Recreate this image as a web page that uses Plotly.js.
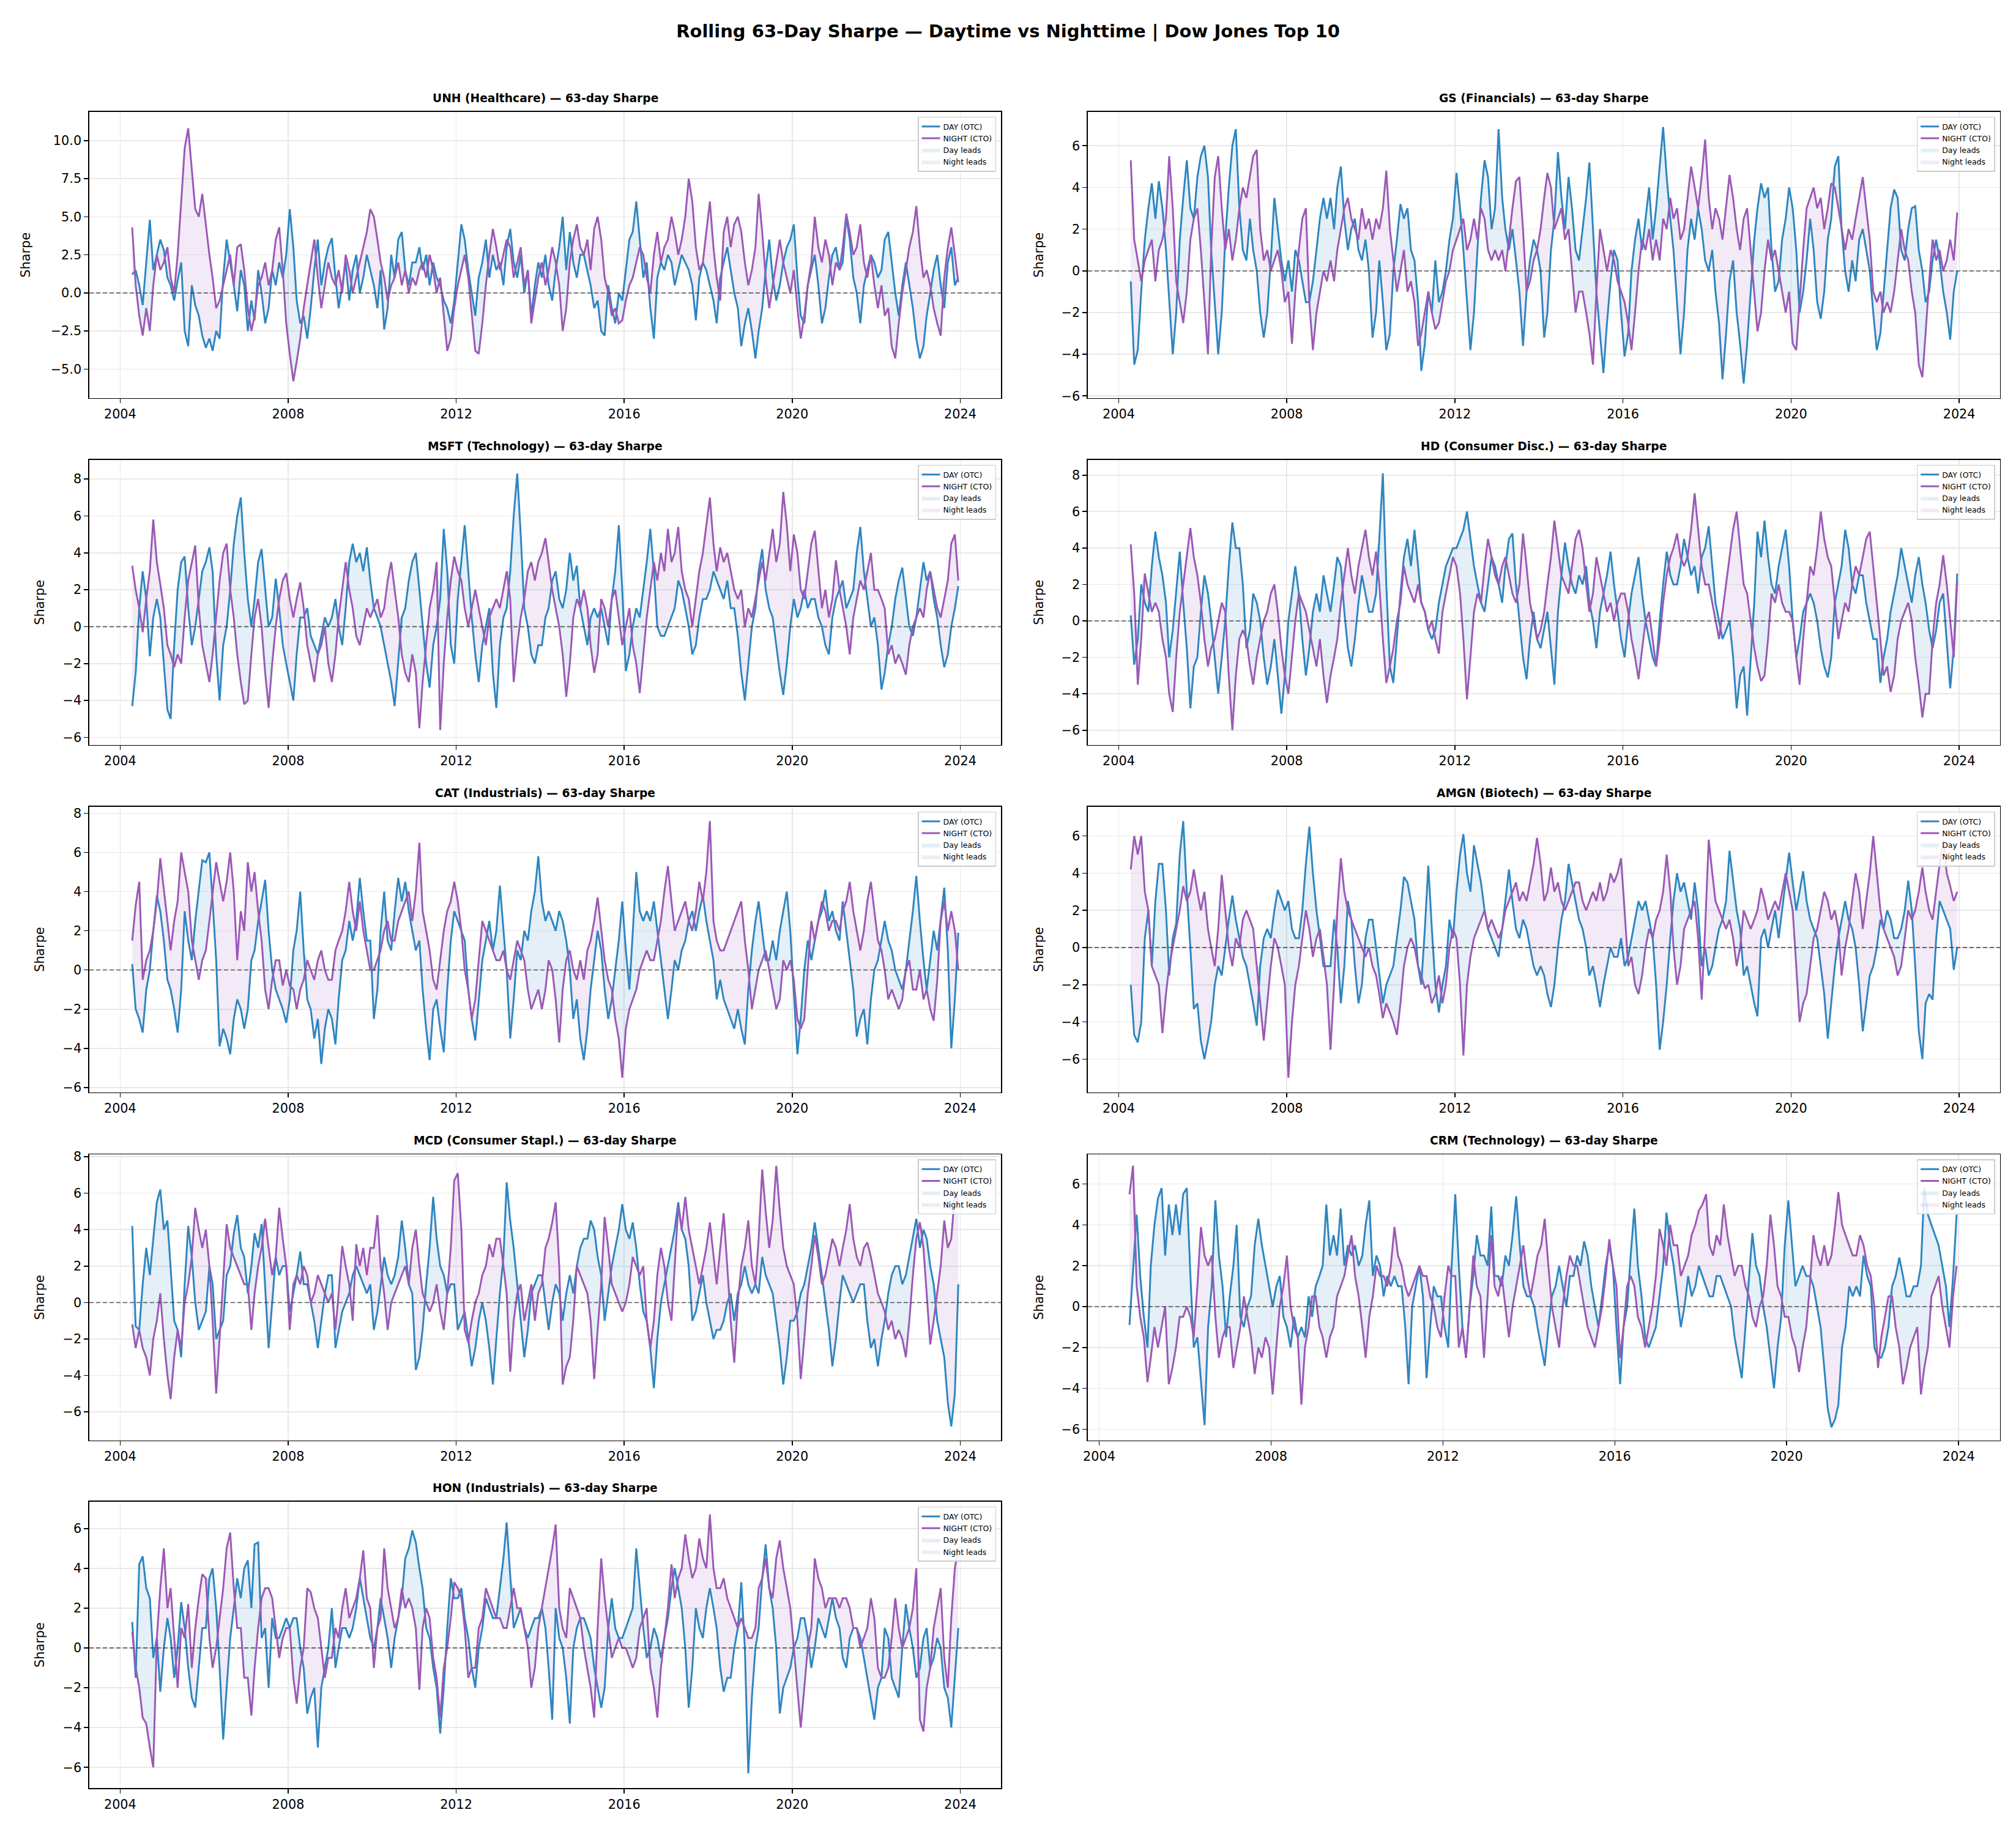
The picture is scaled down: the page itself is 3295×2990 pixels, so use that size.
<!DOCTYPE html>
<html>
<head>
<meta charset="utf-8">
<script src="https://cdn.plot.ly/plotly-3.0.1.min.js"></script>
<style>html,body{margin:0;padding:0;background:#fff;}#chart{width:3295px;height:2990px;}</style>
</head>
<body>
<div id="chart"></div>
<script>
// ---------------- DATA (monthly readings of the rolling 63-day Sharpe) ----------------
const TICK_YEARS = ['2004','2008','2012','2016','2020','2024'];
const SERIES_NAMES = ['DAY (OTC)', 'NIGHT (CTO)', 'Day leads', 'Night leads'];
const TICKERS = ['UNH (Healthcare)','GS (Financials)','MSFT (Technology)','HD (Consumer Disc.)','CAT (Industrials)','AMGN (Biotech)','MCD (Consumer Stapl.)','CRM (Technology)','HON (Industrials)'];
const START_MONTHS = ['2004-04','2004-04','2004-04','2004-04','2004-04','2004-04','2004-04','2004-09','2004-04'];

const UNH_DAY = [1.2,1.5,0.5,-0.8,2.0,4.8,1.5,2.5,3.5,
2.8,1.0,0.5,-0.5,0.8,2.0,-2.5,-3.5,0.5,-0.8,-1.5,-2.8,
-3.6,-3.0,-3.8,-2.5,-3.0,1.0,3.5,2.0,0.5,-1.2,1.5,0.5,
-2.5,-0.5,-1.8,1.5,0.0,-2.0,-1.0,1.5,0.5,2.0,1.0,2.5,
5.5,3.0,-0.5,-2.0,-1.5,-3.0,-1.0,1.5,3.5,0.5,2.0,3.0,
3.6,1.0,-1.0,0.5,2.0,-0.5,1.5,2.5,0.0,1.0,2.5,1.5,
0.5,-1.0,1.5,-2.4,-1.0,2.5,1.0,3.5,4.0,1.5,0.5,2.0,
2.0,3.0,1.5,2.5,0.5,2.0,1.0,0.5,-0.5,-1.0,-2.0,-0.5,
2.0,4.5,3.5,1.5,0.0,-1.5,1.0,2.0,3.5,1.0,2.5,1.5,
2.0,0.5,3.0,4.2,2.0,1.0,2.5,0.0,1.5,-1.5,0.5,2.0,
1.0,2.5,0.5,-0.5,1.5,3.0,5.0,1.5,4.0,2.0,1.0,2.5,
2.5,1.5,0.5,-1.0,-0.5,-2.5,-2.8,0.5,-1.0,-2.0,0.0,-0.5,
1.5,3.5,4.0,6.0,3.5,1.0,2.0,-1.0,-3.0,1.0,2.0,1.5,
2.5,2.0,0.5,1.5,2.5,2.0,1.5,0.5,-1.8,1.0,2.0,1.5,
0.5,-0.5,-2.0,1.0,2.0,3.0,1.5,0.0,-1.0,-3.5,-2.0,-1.0,
-2.5,-4.3,-2.5,-1.0,1.5,3.5,1.0,-0.5,0.5,2.0,3.0,3.5,
4.5,1.0,-1.5,-2.0,0.5,1.5,2.5,0.5,-2.0,-1.0,1.0,2.5,
3.0,1.5,2.0,5.0,3.5,1.0,0.0,-2.0,0.5,1.5,2.5,2.0,
1.0,1.5,3.5,4.0,2.0,0.0,-1.5,0.5,2.0,0.5,-1.0,-3.0,
-4.3,-3.5,-1.5,0.0,1.5,2.5,0.5,-1.0,2.0,3.0,0.5,1.0];
const UNH_NIGHT = [4.3,0.5,-1.5,-2.8,-1.0,-2.5,0.5,2.5,1.5,
2.0,3.0,1.0,0.0,2.5,6.0,9.5,10.8,8.0,5.5,5.0,6.5,
4.5,2.5,1.0,-1.0,-0.5,0.5,1.5,2.5,0.5,3.0,3.2,1.5,
-1.0,-2.5,-1.5,0.5,1.0,2.0,0.5,1.5,3.5,4.3,1.5,-2.0,
-4.0,-5.8,-4.5,-3.0,-1.0,0.5,2.0,3.5,1.0,-1.0,0.5,2.0,
1.0,0.5,1.5,0.0,2.5,1.5,0.0,1.0,2.0,3.0,4.0,5.5,
5.0,3.5,2.0,1.0,-0.5,0.5,1.0,2.0,0.5,1.5,0.0,1.0,
0.5,1.5,2.0,1.0,2.5,1.5,0.0,1.0,-1.5,-3.8,-3.0,-1.0,
0.5,1.5,2.5,1.0,-1.5,-3.8,-4.0,-2.0,0.5,2.5,4.2,3.0,
1.5,2.5,3.5,3.0,1.0,2.0,3.0,0.5,1.5,-2.0,-0.5,1.0,
2.0,0.5,1.5,3.0,2.0,0.5,-2.5,-1.0,2.0,3.5,4.5,3.0,
2.5,3.5,1.5,4.2,5.0,3.5,1.0,0.0,-1.5,-1.0,-2.0,-1.8,
-0.5,0.5,1.0,2.0,3.0,2.5,1.0,0.0,2.5,4.0,2.0,3.0,
3.5,5.0,4.0,2.5,3.5,5.0,7.5,6.0,3.0,1.5,2.0,4.0,
6.0,3.0,1.0,-0.5,4.0,5.0,3.0,4.5,5.0,4.0,2.0,0.5,
1.5,3.0,6.5,4.0,1.0,-1.0,0.5,2.0,3.5,2.0,1.0,0.0,
1.5,-1.0,-3.0,-1.5,0.5,2.0,5.0,3.0,2.0,3.5,2.5,0.5,
2.0,1.5,3.0,5.2,4.0,2.5,3.0,4.5,2.0,1.0,2.5,0.5,
-1.0,0.5,-1.5,-1.0,-3.5,-4.3,-2.0,0.0,1.5,3.0,4.0,5.7,
3.0,1.0,1.5,0.5,-1.0,-2.0,-2.8,1.0,3.0,4.3,2.5,0.7];

const GS_DAY = [-0.5,-4.5,-3.8,-1.0,1.5,3.0,4.2,2.5,4.3,
3.0,1.0,-1.5,-4.0,-2.0,1.5,3.5,5.3,3.0,2.5,4.5,5.5,
6.0,4.5,1.0,-1.5,-4.0,-2.0,1.5,4.0,6.0,6.8,3.0,1.0,
0.5,2.5,1.0,0.0,-2.0,-3.2,-2.0,0.5,3.5,2.0,0.5,-0.5,
0.5,-1.0,1.0,0.5,-0.5,-1.5,-1.5,-0.5,1.0,2.5,3.5,2.5,
3.5,2.0,4.0,5.0,2.5,1.0,2.0,2.5,1.0,0.5,1.5,0.0,
-3.2,-2.0,0.5,-1.5,-3.8,-3.0,0.0,1.5,3.2,2.5,3.0,1.0,
0.5,-1.5,-4.8,-3.5,-1.0,-2.0,0.5,-1.5,-1.0,0.0,1.5,2.5,
4.7,3.0,1.0,-1.5,-3.8,-2.0,1.0,3.5,5.3,4.5,2.0,3.0,
6.8,3.5,2.0,1.0,2.0,0.5,-1.0,-3.6,-1.0,0.5,1.5,1.0,
0.0,-3.2,-2.0,1.0,2.5,5.7,3.5,2.0,4.5,3.0,1.0,0.5,
2.0,3.5,5.2,2.0,-1.0,-3.0,-4.9,-2.5,-0.5,1.0,0.5,-2.0,
-4.1,-3.0,0.0,1.5,2.5,1.0,2.5,4.0,1.5,3.0,5.0,6.9,
4.5,2.5,1.0,-1.5,-4.0,-2.0,1.0,2.5,1.5,3.0,2.0,0.5,
0.0,1.0,-1.0,-2.5,-5.2,-3.0,-0.5,0.5,-2.0,-3.5,-5.4,-3.5,
-1.0,1.5,3.0,4.2,3.5,4.0,1.0,-1.0,-0.5,1.5,2.5,4.0,
3.0,1.0,-2.0,-1.0,0.5,2.5,1.0,-1.5,-2.3,-1.0,1.5,2.5,
5.0,5.5,2.0,0.0,-1.0,0.5,-0.5,1.5,2.0,1.0,0.0,-2.0,
-3.8,-3.0,-1.0,1.0,3.0,3.9,3.5,1.0,0.5,2.0,3.0,3.1,
1.0,0.0,-1.5,-1.0,0.5,1.5,0.5,-1.0,-2.0,-3.3,-1.0,0.0];
const GS_NIGHT = [5.3,1.5,0.5,-0.5,0.5,1.0,1.5,-0.5,1.0,
1.5,2.5,5.5,3.0,-0.5,-1.5,-2.5,-1.0,1.5,2.5,3.0,1.0,
-1.5,-4.0,1.0,4.5,5.5,3.0,1.0,2.0,0.5,1.5,3.0,4.0,
3.5,4.5,5.5,5.8,2.0,0.5,1.0,0.0,0.5,1.0,0.0,-1.5,
-1.0,-3.5,-1.0,1.0,2.5,3.0,-1.5,-3.8,-2.0,-1.0,0.0,-0.5,
0.5,-0.5,1.0,2.0,3.0,3.5,2.5,2.0,1.5,3.0,2.0,2.5,
1.5,2.5,2.0,3.0,4.8,2.0,0.5,-1.0,0.0,1.0,-1.0,-0.5,
-1.5,-3.6,-3.0,-2.0,-1.0,-2.0,-2.8,-2.5,-1.5,-0.5,0.0,1.0,
1.5,2.0,2.5,1.0,1.5,2.5,1.5,3.0,2.5,1.0,0.5,1.0,
0.5,1.0,0.0,1.5,3.0,4.3,4.5,2.0,-1.0,-0.5,0.5,1.0,
2.0,3.5,4.7,4.0,2.0,2.5,3.0,1.5,2.0,0.0,-2.0,-1.0,
-1.0,-2.0,-3.0,-4.5,-1.0,2.0,1.0,0.0,1.0,0.5,-0.5,-1.0,
-1.5,-2.5,-3.8,-2.0,0.0,1.5,1.0,2.0,0.5,1.5,0.5,2.5,
2.0,3.5,2.5,3.0,1.5,2.0,3.5,5.0,4.0,3.0,4.5,6.3,
3.5,2.0,3.0,2.5,1.5,3.0,4.6,3.5,2.0,1.0,2.5,3.0,
1.0,-1.0,-2.9,-2.0,0.0,1.5,0.5,1.0,0.0,-1.0,-2.0,-1.0,
-3.5,-3.8,-1.5,1.0,3.0,3.5,4.0,3.0,3.5,2.0,3.0,4.2,
4.0,3.0,2.0,1.0,2.0,1.5,2.5,3.5,4.5,3.0,1.5,-1.0,
-1.5,-1.0,-2.0,-1.5,-2.0,-1.0,0.5,2.0,1.0,0.5,-1.0,-2.0,
-4.5,-5.1,-3.0,-0.5,1.5,0.5,1.0,0.0,0.5,1.5,0.5,2.8];

const MSFT_DAY = [-4.3,-2.5,1.0,3.0,1.5,-1.6,0.5,1.5,0.5,
-2.0,-4.5,-5.0,-1.0,2.0,3.5,3.8,1.0,-1.0,0.0,1.5,3.0,
3.5,4.3,3.0,-1.5,-4.0,-1.0,0.0,2.0,4.5,6.0,7.0,4.0,
1.5,0.0,1.5,3.5,4.2,2.0,0.0,0.5,2.6,1.0,-1.0,-2.0,
-3.0,-4.0,-1.5,0.5,0.5,1.0,-0.5,-1.0,-1.5,-0.5,0.5,0.0,
0.5,1.5,0.0,-1.0,1.0,3.5,4.5,3.5,4.0,3.0,4.3,2.5,
1.0,0.5,0.0,-1.0,-2.0,-3.0,-4.3,-2.0,0.5,1.0,2.5,3.5,
4.0,2.0,0.0,-2.0,-3.3,-1.0,0.0,1.5,5.3,3.0,-1.0,-2.0,
1.5,3.5,5.5,3.0,0.5,-1.5,-3.0,-1.0,0.0,1.0,-2.5,-4.4,
-1.0,0.5,1.0,3.0,6.0,8.3,5.0,1.0,0.0,-1.5,-2.0,-1.0,
-1.0,0.5,1.0,2.5,3.0,1.5,1.0,2.0,4.0,2.5,3.3,1.0,
0.0,-1.0,0.5,1.0,0.5,1.0,0.0,-1.0,1.5,3.0,5.5,2.0,
-2.4,-1.5,0.0,1.0,0.5,2.0,3.5,5.3,3.0,0.0,-0.5,-0.5,
0.0,0.5,1.0,2.5,2.0,1.0,0.0,-1.5,-1.0,0.5,1.5,1.5,
2.0,3.0,2.5,2.0,1.5,2.5,1.0,1.0,-0.5,-2.5,-4.0,-2.0,
0.0,1.0,3.0,4.2,2.0,1.0,0.5,-1.0,-2.5,-3.7,-2.0,0.0,
1.5,0.5,1.0,2.0,1.0,1.5,1.5,0.5,0.0,-1.0,-1.5,0.5,
1.5,2.0,2.5,1.0,1.5,2.0,4.0,5.4,3.0,1.5,0.0,0.5,
-1.0,-3.4,-2.5,-1.0,0.0,1.5,2.5,3.2,1.5,0.0,-0.5,0.5,
2.0,3.5,2.5,3.0,1.5,0.5,-1.0,-2.2,-1.5,0.0,1.0,2.2];
const MSFT_NIGHT = [3.3,2.0,1.0,-0.3,1.5,3.0,5.8,3.5,2.3,
1.0,-1.0,-1.5,-2.2,-1.5,-2.0,0.5,2.5,3.5,4.4,1.0,-1.0,
-2.0,-3.0,-1.5,0.5,2.5,4.0,4.5,2.0,0.5,-1.5,-3.0,-4.2,
-4.0,-1.5,0.5,1.5,0.0,-2.5,-4.4,-2.0,0.0,1.5,2.5,2.9,
1.5,0.5,1.5,2.4,1.0,-1.0,-2.0,-3.0,-1.5,-1.0,0.0,-2.0,
-3.0,-1.5,0.5,2.0,3.5,2.0,1.0,-0.5,-1.0,0.0,1.0,0.5,
1.0,1.5,0.5,1.0,2.5,3.5,2.0,0.5,-1.5,-2.5,-3.0,-1.5,
-2.5,-5.5,-3.0,-1.0,1.0,2.0,3.5,-5.6,-2.0,0.5,2.5,3.8,
3.0,2.5,1.0,0.0,1.0,2.0,1.0,0.0,-1.0,0.5,1.0,1.5,
1.0,2.0,3.0,1.5,-3.0,-1.0,0.5,1.5,3.0,3.5,2.5,3.5,
4.0,4.8,3.5,2.0,1.0,0.0,-1.5,-3.8,-2.0,0.5,1.5,1.0,
2.0,1.0,-1.0,-2.5,-1.5,1.5,1.0,0.0,1.5,2.0,0.5,-1.0,
0.0,1.0,-1.0,-2.0,-3.6,-1.5,0.5,2.0,3.5,2.5,4.0,3.0,
5.3,3.5,4.0,5.4,3.0,2.0,1.5,0.0,1.5,3.0,4.0,5.5,
7.0,4.5,3.0,4.3,3.5,4.0,3.0,2.0,1.5,2.0,0.0,1.0,
0.5,1.5,2.5,3.5,2.5,4.0,5.3,3.5,4.5,7.3,5.5,3.0,
5.0,4.0,2.0,1.5,3.0,4.5,5.2,3.0,1.0,2.0,0.5,1.5,
3.6,2.0,1.0,0.0,-1.5,0.5,1.5,2.5,2.0,3.0,4.0,2.0,
2.0,1.5,1.0,-1.5,-1.0,-2.0,-1.5,-2.0,-2.6,-1.0,0.0,0.5,
1.0,0.5,2.0,3.0,2.0,1.0,0.5,1.5,2.5,4.5,5.0,2.5];

const HD_DAY = [0.3,-2.4,-1.0,2.0,1.0,0.5,3.0,4.9,3.5,
2.5,1.0,-2.0,-0.5,1.5,3.8,1.0,-1.5,-4.8,-2.5,-2.0,0.5,
2.5,1.5,0.0,-2.0,-4.0,-2.0,0.0,3.0,5.4,4.0,4.0,2.0,
-1.5,-0.5,1.5,1.0,0.0,-2.0,-3.5,-2.5,-1.0,-3.0,-5.1,-3.0,
0.0,1.5,3.0,1.5,-1.0,-3.0,-1.5,0.5,1.5,0.5,2.5,1.5,
0.5,2.0,3.5,3.0,0.5,-1.5,-2.5,-1.0,1.0,2.5,1.5,0.5,
0.5,1.5,4.5,8.1,2.0,-2.5,-3.4,-1.0,1.5,3.5,4.5,3.0,
5.0,3.0,1.0,0.5,-0.5,-1.0,-0.5,1.0,2.0,3.0,3.5,4.0,
4.0,4.5,5.0,6.0,4.5,3.0,2.0,1.0,0.5,2.0,3.5,3.0,
2.0,1.0,3.0,4.5,4.8,2.0,0.0,-2.0,-3.2,-1.0,0.5,-1.0,
-1.5,-0.5,0.5,-1.5,-3.5,0.5,2.5,4.3,3.0,2.0,1.5,2.5,
2.0,3.0,1.0,0.0,-1.5,0.5,1.5,2.5,3.8,2.0,0.5,-1.0,
-2.0,0.0,1.5,2.5,3.5,1.5,0.0,-1.0,-2.0,-2.5,0.0,2.0,
3.8,2.5,2.0,2.0,3.0,4.5,3.5,2.5,3.0,1.5,3.5,4.0,
5.2,3.0,1.0,0.0,-1.0,-0.5,0.0,-2.0,-4.8,-3.0,-2.5,-5.2,
-2.0,1.0,4.9,3.5,5.5,3.5,2.0,1.5,3.0,4.0,5.0,3.0,
0.0,-2.0,-1.0,0.5,1.0,1.5,1.0,0.0,-1.5,-2.5,-3.1,-2.0,
1.0,2.0,3.0,5.0,4.0,2.0,1.5,2.5,2.5,1.0,0.0,-1.0,
-1.0,-3.4,-2.0,-1.0,0.5,1.5,2.5,4.0,3.0,2.0,1.0,2.5,
3.5,2.0,1.0,-0.5,-1.5,-0.5,1.0,1.5,-1.0,-3.7,-1.5,2.6];
const HD_NIGHT = [4.2,1.5,-3.5,-1.0,2.6,1.5,0.5,1.0,0.5,
-1.0,-2.0,-4.0,-5.0,-2.0,0.5,2.0,3.5,5.1,3.5,2.5,1.0,
-1.0,-2.5,-1.5,-1.0,0.0,1.0,0.5,-3.0,-6.0,-3.0,-1.0,-0.5,
-1.0,-2.5,-3.5,-2.0,-1.0,0.0,0.5,1.5,2.0,0.5,-1.5,-3.0,
-4.0,-2.0,0.0,1.5,1.0,0.5,-0.5,-1.5,-2.5,-1.0,-3.0,-4.5,
-3.0,-2.0,-1.0,1.0,2.5,4.0,2.5,1.5,3.0,4.0,5.0,3.5,
2.5,3.8,2.0,-1.0,-3.4,-2.5,-1.5,0.0,1.0,3.0,2.0,1.5,
1.0,2.0,1.0,0.5,-0.5,0.0,-1.0,-1.8,0.5,1.5,2.5,3.5,
3.0,1.5,-1.0,-4.3,-2.0,0.5,1.5,1.0,3.0,4.5,3.5,2.5,
2.0,3.0,3.5,2.5,1.5,1.0,2.0,4.8,3.0,1.0,0.0,-1.0,
-0.5,0.5,2.0,3.5,5.5,4.0,2.5,2.0,1.5,3.0,4.5,5.0,
4.0,2.0,0.5,1.5,3.5,2.5,1.5,0.5,1.0,0.0,1.0,1.5,
1.5,0.5,-1.0,-2.0,-3.2,-1.5,0.0,0.5,-1.0,-2.5,-1.0,1.0,
2.5,3.5,4.0,4.8,3.5,3.0,3.5,5.0,7.0,5.0,3.0,2.0,
2.0,1.0,0.0,-1.0,0.5,2.0,3.5,5.0,6.0,4.0,2.0,1.5,
0.0,-1.5,-2.5,-3.3,-3.0,-1.0,1.5,1.0,2.0,1.0,0.5,0.5,
0.0,-2.0,-3.5,-1.0,1.0,3.0,2.5,4.0,6.0,4.5,3.5,3.0,
1.0,-1.0,0.0,1.0,0.5,2.0,3.0,2.5,3.5,4.5,4.9,3.0,
1.0,-1.0,-3.0,-2.5,-3.9,-3.0,-1.0,0.0,0.5,1.0,0.0,-2.0,
-3.5,-5.3,-4.0,-4.0,-1.0,1.0,2.0,3.6,2.0,0.0,-2.0,2.2];

const CAT_DAY = [0.3,-2.0,-2.5,-3.2,-1.0,0.0,2.0,3.8,3.0,
1.5,-0.5,-1.0,-2.0,-3.2,-1.0,3.0,1.5,0.5,2.5,4.0,5.6,
5.5,6.0,3.5,0.5,-3.9,-3.0,-3.5,-4.3,-2.5,-1.5,-2.0,-3.0,
-2.0,0.5,1.0,2.5,3.5,4.6,2.0,0.0,-1.0,-1.5,-2.0,-2.7,
-1.5,1.0,2.0,4.0,1.0,-1.5,-2.0,-3.5,-2.5,-4.8,-3.0,-2.0,
-2.5,-3.8,-1.5,0.5,1.0,2.5,1.5,2.5,4.7,3.0,1.5,1.5,
-2.5,-1.0,2.0,4.0,1.5,1.0,3.0,4.7,3.5,4.5,3.0,2.0,
1.0,1.5,-1.0,-3.0,-4.6,-2.0,-1.5,-3.0,-4.2,-1.0,1.5,3.0,
2.5,2.0,1.5,-1.0,-2.5,-3.6,-1.5,0.5,1.5,2.5,1.0,2.0,
4.3,2.0,0.0,-3.5,-1.5,1.0,0.5,2.0,1.5,3.0,4.0,5.8,
3.5,2.5,3.0,2.5,2.0,3.0,2.5,1.5,0.0,-2.5,-1.5,-3.5,
-4.6,-3.0,-1.0,0.5,2.0,1.0,-1.0,-2.5,-1.5,0.0,1.5,3.5,
1.0,-1.0,2.0,5.0,3.0,2.5,3.0,2.5,3.5,2.0,0.5,-1.0,
-2.5,-1.0,0.5,0.0,1.0,1.5,2.5,3.0,2.0,3.0,3.8,2.5,
1.5,0.5,-1.5,-0.5,-1.5,-2.0,-2.5,-3.0,-2.0,-3.0,-3.8,-1.0,
1.0,2.5,3.5,2.0,0.5,0.5,1.5,0.5,2.0,3.0,4.0,2.0,
-1.0,-4.3,-2.5,0.0,1.5,0.5,1.5,2.5,3.0,4.1,2.5,3.0,
2.0,1.5,3.5,2.0,0.5,-1.0,-3.4,-2.5,-2.0,-3.8,-1.5,0.0,
0.5,1.5,2.5,1.5,1.0,0.0,-0.5,-1.0,0.0,1.5,3.0,4.8,
2.5,0.5,-1.0,0.5,2.0,1.0,2.5,4.2,1.0,-4.0,-1.5,1.9];
const CAT_NIGHT = [1.5,3.3,4.5,-0.5,0.5,1.0,2.0,3.5,5.7,
4.0,2.5,1.0,2.5,3.5,6.0,5.0,4.0,1.5,0.5,-0.5,0.5,
1.0,2.5,4.0,5.5,4.5,3.5,4.5,6.0,4.0,0.5,3.0,2.0,
5.5,4.0,5.0,3.0,1.5,-1.0,-2.0,-0.5,0.5,0.5,-0.8,0.0,
-0.8,-1.0,-2.0,-1.0,-0.5,0.5,0.0,-0.5,0.5,1.0,0.0,-0.5,
-0.5,1.0,1.5,2.0,3.0,4.5,3.0,2.0,3.5,2.0,1.0,0.0,
0.0,0.5,1.0,2.0,2.5,1.5,1.5,2.5,3.0,3.5,4.0,2.5,
4.0,6.5,3.0,2.0,1.0,-0.5,-1.0,0.5,2.0,3.0,3.5,4.5,
3.5,2.0,0.0,-1.0,-2.5,-1.5,0.5,2.5,2.0,1.5,1.0,0.5,
0.5,1.0,0.0,-0.5,0.5,1.5,1.0,0.5,-1.0,-2.0,-1.5,-1.0,
-2.0,-1.0,0.5,0.0,-1.5,-3.7,-1.0,0.5,1.0,0.0,-0.5,0.5,
-0.5,1.0,1.5,2.5,3.7,2.0,0.5,-0.5,-1.0,-2.5,-3.5,-5.5,
-3.0,-2.0,-1.5,-1.0,0.0,0.5,1.0,0.5,0.5,1.5,2.5,4.0,
5.3,3.5,2.0,2.5,3.0,3.5,2.5,2.0,3.0,4.5,3.5,5.0,
7.6,2.5,1.5,1.0,1.0,1.5,2.0,2.5,3.0,3.5,1.5,0.0,
-2.0,-1.0,0.0,0.5,1.0,0.0,-1.0,-2.0,-1.5,0.5,0.0,0.5,
-0.5,-2.5,-3.0,-2.5,0.0,2.5,1.5,2.5,3.5,3.0,2.0,2.5,
2.5,2.0,3.0,3.5,4.5,3.0,2.0,1.0,2.0,3.5,4.5,3.0,
1.5,1.0,0.0,-1.5,-1.0,-1.5,-2.0,-1.5,0.0,0.5,-1.0,-1.0,
0.0,-1.5,-1.0,-2.0,-2.6,-0.5,2.5,3.5,2.0,3.0,2.0,0.0];

const AMGN_DAY = [-2.0,-4.7,-5.1,-4.0,0.5,2.0,-1.0,2.5,4.5,
4.5,2.0,-1.5,0.5,1.3,5.0,6.8,3.0,0.0,-3.3,-3.0,-5.0,
-6.0,-5.0,-4.0,-2.0,-1.0,-1.5,0.0,1.5,2.8,1.5,0.5,-0.5,
-1.0,-2.0,-3.0,-4.2,-1.0,0.5,1.0,0.5,2.0,3.1,2.5,2.0,
2.5,1.0,0.5,0.5,2.0,4.5,6.5,4.0,2.0,0.5,-1.0,-1.0,
-1.0,1.5,0.0,-3.0,-1.0,2.5,1.5,-1.0,-3.0,-2.0,0.5,1.5,
1.5,0.0,-1.5,-3.0,-2.0,-1.5,-1.0,0.5,2.0,3.8,3.5,2.5,
1.5,-1.0,-2.0,1.0,4.4,1.0,-2.0,-3.5,-2.0,-1.0,1.5,0.5,
3.0,5.0,6.1,4.0,3.0,5.5,4.5,3.5,2.0,1.0,0.5,0.0,
-0.5,1.0,2.5,4.2,2.5,1.0,0.5,1.5,1.0,0.0,-1.0,-1.5,
-1.0,-1.5,-2.5,-3.2,-2.0,0.0,1.5,2.5,4.5,3.5,2.5,1.5,
1.0,0.0,-1.5,-1.0,-2.0,-3.2,-2.0,-1.0,0.0,-0.5,-0.5,0.5,
-1.0,-0.5,0.5,1.5,2.5,2.0,2.5,1.5,0.5,-2.0,-5.5,-4.0,
-2.0,0.5,2.5,4.0,3.0,3.5,2.5,1.5,3.5,2.0,-1.0,0.0,
-1.5,-1.0,0.0,1.0,1.5,2.5,5.2,3.5,2.0,1.0,-1.5,-1.0,
-2.0,-3.0,-3.7,0.5,1.0,0.0,1.0,2.0,0.5,2.0,3.5,5.1,
3.5,2.0,3.0,4.1,2.5,1.5,1.0,0.5,-1.0,-2.5,-4.9,-3.0,
-1.0,0.5,1.5,2.5,1.5,1.0,0.0,-2.0,-4.5,-3.0,-1.5,-1.0,
0.0,1.5,1.0,2.0,1.5,0.5,0.5,1.0,2.0,3.6,2.0,-1.0,
-4.5,-6.0,-3.0,-2.5,-2.8,0.5,2.5,2.0,1.5,1.0,-1.2,0.0];
const AMGN_NIGHT = [4.2,6.0,5.0,6.0,3.0,2.0,-1.0,-1.5,-2.0,
-4.6,-2.5,-1.0,0.0,1.0,2.0,3.3,2.5,3.0,4.2,3.0,2.0,
3.0,1.0,0.0,-1.0,1.0,3.9,2.0,0.0,-1.0,0.5,0.0,1.5,
2.0,1.5,1.0,-1.0,-3.0,-5.0,-3.0,-1.0,0.5,0.0,-1.0,-2.0,
-7.0,-4.0,-2.0,-1.0,0.5,2.0,1.0,-0.5,0.5,1.0,-0.5,-2.0,
-5.5,-2.0,2.0,4.8,3.0,2.0,1.5,1.0,0.5,0.0,-0.5,0.0,
-1.0,-1.5,-2.5,-3.8,-3.0,-3.5,-4.0,-4.7,-3.0,-1.0,0.0,0.5,
0.0,-1.0,-1.5,-2.2,-2.0,-3.0,-2.5,-1.5,-3.0,-2.0,0.0,1.0,
0.5,-2.0,-5.8,-2.0,-0.5,0.5,1.0,1.5,2.0,1.0,1.5,1.0,
0.5,1.0,2.0,2.5,3.0,3.5,2.5,3.0,2.5,3.5,4.5,5.9,
4.5,2.5,3.0,4.3,3.0,3.5,2.5,2.0,2.5,3.0,3.5,3.5,
2.5,2.0,2.5,3.0,2.5,3.5,2.5,3.0,4.0,3.5,4.0,4.8,
2.0,-1.0,-0.5,-2.0,-2.5,-1.5,0.0,1.0,0.5,1.5,2.0,3.0,
5.0,3.0,0.0,-2.0,-1.0,1.0,1.5,2.0,2.5,0.5,-2.8,1.0,
5.8,4.0,2.5,2.0,1.5,1.0,1.5,0.5,-1.0,0.0,2.0,1.5,
1.0,1.5,2.0,3.2,2.5,1.5,2.0,2.5,2.0,3.0,4.0,3.0,
2.0,-1.0,-4.0,-3.0,-2.5,-1.0,0.5,1.0,2.0,3.0,2.5,1.5,
2.0,1.0,-1.5,0.0,1.0,2.5,4.0,3.0,1.0,2.5,4.0,6.0,
4.0,2.0,1.0,0.5,0.0,-0.5,-1.5,-1.0,0.5,2.0,1.5,2.0,
3.0,4.3,3.0,2.0,1.5,3.0,4.5,5.8,4.0,3.3,2.5,3.0];

const MCD_DAY = [4.2,-1.3,-1.5,1.0,3.0,1.5,3.5,5.5,6.2,
4.0,4.5,2.0,-1.0,-1.5,-3.0,1.0,4.2,2.5,0.0,-1.5,-1.0,
-0.5,2.0,1.0,-2.0,-1.5,-1.0,1.5,2.0,3.8,4.8,3.0,2.5,
0.5,2.0,3.8,3.0,4.3,1.0,-2.5,0.0,2.5,1.5,2.0,2.0,
-0.5,0.5,1.5,2.8,1.0,1.0,0.0,-1.0,-2.5,-1.0,0.5,1.5,
1.5,-2.5,-1.5,-0.5,0.0,0.5,1.5,2.0,1.5,1.0,0.5,1.0,
-1.5,-0.5,1.0,2.5,1.5,1.0,1.5,2.5,4.5,3.0,1.0,0.5,
-3.7,-3.0,-1.5,1.0,3.0,5.8,3.5,2.0,1.5,0.5,1.0,1.0,
-1.5,-1.0,-0.5,-2.0,-3.5,-2.5,-1.0,0.0,-1.0,-2.5,-4.5,-2.0,
0.5,2.5,6.6,4.5,3.0,1.0,-1.0,-3.0,-1.5,0.5,1.0,1.5,
1.5,0.0,-1.5,0.0,1.0,0.5,-1.0,0.5,1.5,0.5,2.0,3.0,
3.5,3.5,4.5,4.0,2.5,1.5,-1.0,0.5,2.0,3.0,4.0,5.4,
4.0,3.5,4.4,3.0,1.0,-0.5,-1.0,-2.5,-4.7,-2.0,0.0,1.0,
2.0,3.0,4.0,5.5,4.0,3.5,2.0,-1.0,-0.5,0.5,1.5,0.0,
-1.0,-2.0,-1.5,-1.5,-1.0,0.0,0.5,-1.0,0.5,1.0,2.0,1.0,
0.5,1.0,0.5,2.5,1.5,1.0,0.5,-1.0,-2.5,-4.5,-3.0,-1.0,
-1.0,-0.5,0.5,1.0,2.0,3.0,4.4,3.0,1.5,0.0,-1.5,-3.5,
-2.0,0.0,1.5,1.0,0.5,0.0,0.5,1.0,1.0,-1.0,-2.5,-2.0,
-3.5,-2.0,-1.0,0.5,1.5,2.0,2.0,1.0,1.5,2.5,3.5,4.6,
3.0,4.0,3.5,2.0,1.0,-1.0,-2.0,-3.0,-5.5,-6.8,-5.0,1.0];
const MCD_NIGHT = [-1.2,-2.5,-1.5,-2.5,-3.0,-4.0,-2.0,-1.0,0.5,
-2.0,-4.0,-5.3,-3.0,-1.5,-2.5,0.0,1.0,2.5,5.2,4.0,3.0,
4.0,2.0,-1.0,-5.0,-2.0,1.5,4.3,3.0,2.5,2.0,1.5,1.0,
1.0,-1.5,0.5,2.0,3.0,4.6,3.0,1.5,2.5,5.2,3.5,2.0,
-1.5,1.0,1.5,1.0,2.0,1.5,0.0,0.5,1.5,1.0,0.5,0.0,
0.5,-1.5,0.5,3.1,2.0,1.0,-1.0,3.2,2.0,3.0,1.5,3.0,
3.0,4.8,2.0,0.5,-1.5,0.0,0.5,1.0,1.5,2.0,1.0,3.0,
4.0,2.0,0.5,0.0,-0.5,0.0,1.0,-0.5,-1.5,0.5,3.0,6.7,
7.1,4.0,-1.5,-2.2,-1.0,0.0,0.5,1.5,2.0,3.2,2.5,3.5,
3.5,2.0,0.5,-3.8,-1.0,0.5,1.0,-1.0,0.0,1.0,-1.0,0.5,
1.0,3.0,3.5,4.4,5.5,2.0,-4.5,-3.5,-3.0,-1.0,2.0,1.5,
1.0,0.5,-1.0,-4.2,-1.5,1.0,4.7,3.0,1.0,0.5,0.0,-0.5,
0.0,1.0,2.5,2.0,1.5,2.0,-1.0,-2.5,-1.0,1.5,3.0,2.0,
0.0,-1.0,2.0,5.3,4.0,5.8,4.0,3.0,2.0,1.0,2.0,3.0,
4.4,2.5,1.0,3.0,4.9,2.0,-1.0,-3.3,0.0,2.0,3.0,4.5,
2.0,1.0,3.5,7.3,5.0,3.0,4.5,7.5,5.0,3.0,2.0,1.5,
1.0,-1.0,-4.2,-2.0,0.5,2.0,3.7,2.5,1.0,1.5,2.5,3.5,
3.0,2.0,3.0,4.0,5.4,3.5,2.5,2.0,3.0,3.3,2.5,1.5,
0.5,0.0,-0.5,-1.5,-1.0,-2.0,-1.5,-2.0,-3.0,-1.0,1.5,3.5,
4.4,3.0,0.5,-2.3,-1.0,0.5,2.0,4.5,3.0,3.5,6.0,5.5];

const CRM_DAY = [-0.9,1.8,4.5,1.5,
-0.5,-2.0,2.0,4.0,5.3,5.8,2.5,5.0,3.5,5.0,3.5,5.5,
5.8,1.5,-2.0,-1.5,-3.5,-5.8,-1.0,1.0,5.2,2.5,1.0,-1.5,
0.5,2.0,4.0,-0.5,-1.0,0.0,0.5,3.0,4.3,3.0,2.0,1.0,
0.0,1.0,1.5,-0.5,-1.0,-2.0,-0.5,-1.5,-1.0,-1.5,0.5,-0.5,
1.0,1.5,2.0,5.0,2.5,3.5,2.5,4.8,2.0,3.0,2.5,3.0,
2.0,2.5,4.0,5.2,1.5,2.5,2.0,0.5,1.5,1.0,1.5,1.0,
1.0,-1.0,-3.8,0.0,1.0,2.0,0.5,-3.5,-1.0,1.0,0.5,0.5,
-1.0,-2.0,2.0,5.5,2.0,-1.0,-2.5,0.0,1.5,3.5,2.5,2.5,
2.0,4.9,1.5,1.5,1.0,2.5,2.0,3.5,5.4,3.0,1.0,0.5,
0.5,0.0,-1.0,-2.0,-2.9,-1.0,0.5,1.0,2.0,1.0,0.0,1.5,
1.5,2.5,2.0,3.2,2.5,1.0,0.0,-1.0,0.5,2.0,3.0,2.0,
-1.0,-3.8,-1.0,0.0,2.5,4.8,2.0,0.5,-1.5,-2.0,-1.5,-1.0,
0.5,2.0,4.6,3.0,2.0,0.5,-1.0,0.0,1.5,0.5,1.0,2.0,
1.5,1.0,0.5,0.5,1.5,1.5,1.0,0.5,0.0,-1.5,-2.5,-3.5,
-1.0,1.5,3.6,2.0,1.5,0.0,-1.0,-2.5,-4.0,-2.0,-0.5,3.0,
5.2,3.0,1.0,1.5,2.0,1.5,1.5,1.0,0.0,-1.0,-3.0,-5.0,
-5.9,-5.5,-4.8,-2.0,-1.0,1.0,0.5,1.0,0.5,2.5,1.5,1.0,
-2.0,-2.5,-2.5,-2.0,-1.0,1.0,1.5,2.4,1.5,0.5,0.5,1.0,
1.0,2.0,5.8,4.5,4.0,3.5,3.0,2.0,1.0,-1.0,1.5,4.5];
const CRM_NIGHT = [5.5,6.9,1.0,-0.5,
-1.5,-3.7,-2.5,-1.0,-2.0,-1.0,0.0,-3.8,-3.0,-2.0,-0.5,-0.5,
0.0,-0.5,-1.5,1.0,3.9,2.5,2.0,2.5,-0.5,-2.5,-1.5,-1.0,
-1.0,-3.0,-2.0,-1.0,0.5,-0.5,-1.5,-3.3,-2.0,-2.5,-1.5,-2.0,
-4.3,-2.0,0.0,1.0,2.5,0.0,-1.0,-1.5,-4.8,-2.0,-1.0,0.5,
0.5,-1.0,-1.5,-2.5,-1.5,-1.0,0.5,1.0,1.5,2.5,3.5,1.5,
0.5,-1.0,-2.5,-0.5,0.5,2.0,1.5,1.5,1.0,2.0,3.9,2.5,
2.0,1.0,0.5,1.0,1.5,2.0,1.5,1.5,0.5,0.0,-1.0,-1.5,
0.5,2.0,1.5,1.5,-2.0,-1.0,-2.5,0.0,2.5,1.0,0.5,-2.5,
0.5,3.5,1.0,0.5,1.5,0.0,-1.5,0.0,1.0,2.0,3.0,1.5,
0.5,1.5,2.5,3.0,4.3,2.0,0.0,-1.0,-2.0,0.0,1.5,2.5,
2.0,2.0,1.0,0.0,-1.0,-1.5,-2.0,-1.0,0.0,1.5,3.3,2.0,
1.0,-2.5,-1.0,1.0,1.5,1.0,-0.5,-1.0,-2.0,-1.0,0.0,1.5,
3.8,3.0,2.0,4.0,3.0,3.0,1.5,2.0,2.5,3.5,4.0,4.7,
5.0,5.5,3.0,2.5,3.5,3.0,5.0,3.5,2.5,1.5,2.0,2.0,
1.0,0.5,-0.5,-1.0,0.0,0.5,2.0,4.5,3.0,1.0,0.5,-0.5,
-0.5,-1.5,-2.0,-3.2,-2.0,-1.0,1.0,3.5,2.5,2.0,3.0,2.0,
2.5,4.0,5.6,4.0,3.5,3.0,2.5,2.5,3.5,3.0,2.0,1.5,
0.0,-3.0,-1.5,-0.5,0.5,0.5,-1.0,-2.0,-3.8,-3.0,-2.0,-1.5,
-1.0,-4.3,-3.0,-2.0,0.5,1.0,1.5,0.0,-1.0,-2.0,0.5,2.0];

const HON_DAY = [1.3,-1.5,4.2,4.6,3.0,2.5,-0.5,0.5,-2.2,
0.0,1.5,0.5,-1.5,0.0,2.3,1.0,-1.0,-2.5,-3.0,-1.0,1.0,
1.0,3.5,4.0,2.0,-1.0,-4.6,-2.0,0.5,2.0,3.5,2.5,4.0,
4.4,2.0,5.2,5.3,0.5,1.0,-2.0,1.5,0.5,0.5,1.0,1.5,
1.0,1.5,1.5,0.0,-1.0,-3.3,-2.5,-2.0,-5.0,-2.0,-1.0,0.0,
2.0,-1.0,0.0,1.0,1.0,0.5,1.0,2.0,3.5,2.5,1.5,0.5,
0.0,1.0,2.5,1.5,0.5,-1.0,0.5,1.5,2.5,4.5,5.0,5.9,
5.3,4.0,3.0,1.0,0.5,-1.0,-2.0,-4.3,-2.0,1.0,3.5,2.5,
2.5,3.0,1.5,0.5,-1.0,-2.0,0.0,1.0,2.5,2.0,1.5,1.5,
3.0,4.5,6.3,3.5,1.0,1.5,2.0,1.0,0.5,1.0,1.5,1.5,
2.0,1.0,-1.0,-3.6,2.0,0.5,0.0,-1.5,-3.8,0.0,1.0,1.5,
1.5,1.0,0.5,-1.0,-2.0,-3.0,-2.0,1.0,2.5,1.0,0.5,0.5,
1.0,1.5,2.0,5.0,3.0,1.0,-0.5,0.0,1.0,0.5,-0.5,0.5,
1.5,3.0,4.0,3.0,2.0,0.0,-3.0,-1.0,2.0,1.0,0.5,2.0,
3.0,2.0,1.0,-1.0,-2.2,-1.5,-1.5,0.0,1.0,3.3,0.0,-6.3,
-2.5,0.0,1.0,3.5,5.2,3.0,2.0,0.0,-3.3,-2.0,-1.5,-1.0,
0.0,0.5,1.5,1.5,0.5,-1.0,0.0,1.5,1.0,0.5,1.5,2.5,
1.5,1.0,-0.5,-1.0,0.5,1.0,1.0,0.5,-0.5,-1.5,-2.5,-3.6,
-2.0,-1.5,1.0,0.5,-1.5,-2.0,-2.5,0.0,2.2,1.0,0.0,-1.5,
-1.0,0.5,1.0,-1.0,-0.5,0.5,0.0,-2.0,-2.5,-4.0,-1.5,1.0];
const HON_NIGHT = [0.8,-1.0,-2.0,-3.5,-3.8,-5.0,-6.0,0.5,3.0,
5.0,2.0,3.0,0.5,-2.0,1.0,0.5,2.2,-1.0,1.0,2.5,3.7,
3.5,0.5,-1.0,0.0,1.5,3.0,5.0,5.8,3.0,1.0,1.0,-1.5,
-1.5,-3.4,-1.0,1.0,2.5,3.0,3.0,2.5,1.0,-0.5,0.5,1.0,
1.0,-1.5,-2.8,-1.0,0.0,3.0,2.8,2.0,1.5,0.0,-1.5,-0.5,
-0.5,1.0,0.5,2.0,3.0,1.5,2.0,2.5,3.5,4.9,2.5,2.0,
-1.0,1.0,1.5,5.0,3.0,2.0,1.0,1.5,3.0,2.0,2.5,2.0,
1.0,-2.1,1.0,2.0,1.5,-0.5,-1.5,-3.5,-1.0,0.0,1.5,3.3,
3.0,2.5,1.0,-1.5,-1.0,-1.0,1.0,1.5,3.0,2.5,2.0,1.5,
1.5,1.0,1.0,2.0,3.0,2.0,2.0,1.0,0.0,-2.0,-1.0,1.0,
2.0,3.0,4.0,5.0,6.2,2.0,1.0,0.5,3.0,2.5,2.0,1.5,
0.0,-1.0,-2.0,-3.5,1.0,4.5,2.5,1.0,-0.5,0.0,0.5,0.0,
0.0,-0.5,-1.0,-0.5,1.0,1.5,2.0,-1.0,-2.0,-3.5,-1.0,0.5,
2.0,4.2,2.5,3.5,4.0,5.7,4.5,3.5,4.0,5.5,4.5,4.0,
6.7,4.0,3.0,3.0,3.5,2.5,2.0,1.5,1.0,1.5,1.0,0.5,
0.5,1.0,3.0,3.5,4.5,3.0,2.5,4.5,5.4,4.0,3.0,2.0,
0.0,-2.0,-4.0,-2.0,0.0,1.0,4.5,3.5,3.0,2.0,2.5,2.5,
2.5,2.0,2.5,2.5,2.0,1.0,1.0,0.0,0.5,1.0,2.5,1.5,
-1.0,-1.5,-1.5,-1.0,0.5,2.5,1.0,0.0,0.5,1.0,2.0,4.0,
-3.6,-4.2,-2.0,-1.0,1.0,2.0,3.0,-0.5,-2.0,1.5,4.0,5.0];

const DAY_SERIES = [UNH_DAY, GS_DAY, MSFT_DAY, HD_DAY, CAT_DAY, AMGN_DAY, MCD_DAY, CRM_DAY, HON_DAY];
const NIGHT_SERIES = [UNH_NIGHT, GS_NIGHT, MSFT_NIGHT, HD_NIGHT, CAT_NIGHT, AMGN_NIGHT, MCD_NIGHT, CRM_NIGHT, HON_NIGHT];

// ---------------- LAYOUT / STYLE ----------------
const W = 3295, H = 2990;
const COL_X = [[146/W, 1636/W], [1778/W, 3268.7/W]];
const ROW_Y = [[182.7,650.7],[751.7,1217.6],[1318.6,1785.5],[1887.2,2354.5],[2454.8,2923.1]];
const Y_RANGES = [[-6.9,11.89],[-6.1,7.63],[-6.4,9.04],[-6.8,8.84],[-6.24,8.34],[-7.78,7.58],[-7.56,8.13],[-6.54,7.45],[-7.04,7.35]];
const X_RANGE_STD = ['2003-04-08','2024-12-20'];
const X_RANGE_CRM = ['2003-09-27','2024-12-17'];
const SHARPE_X = [42,1698,65,1698,65,1698,65,1698,65];
const C_DAY = '#2E86C1', C_NIGHT = '#9B59B6';
const F_DAY = 'rgba(46,134,193,0.13)', F_NIGHT = 'rgba(155,89,182,0.13)';
const FONT = 'DejaVu Sans, Liberation Sans, sans-serif';

function monthDates(start, n) {
  const [ys, ms] = start.split('-').map(Number);
  const out = [];
  for (let i = 0; i < n; i++) {
    const k = ms - 1 + i;
    const y = ys + Math.floor(k / 12), m = (k % 12) + 1;
    out.push(y + '-' + String(m).padStart(2, '0') + '-15');
  }
  return out;
}

const data = [];
const layout = {
  width: W, height: H,
  margin: {l: 0, r: 0, t: 0, b: 0},
  paper_bgcolor: '#ffffff', plot_bgcolor: '#ffffff',
  font: {family: FONT, size: 20.8, color: '#000'},
  showlegend: true,
  hovermode: false,
  title: {text: '<b>Rolling 63-Day Sharpe — Daytime vs Nighttime | Dow Jones Top 10</b>',
          x: 0.5, xanchor: 'center', y: 1 - 50.5/H, yanchor: 'middle', yref: 'container',
          font: {family: FONT, size: 29, color: '#000'}},
  annotations: [], shapes: []
};

for (let i = 0; i < 9; i++) {
  const idx = i + 1;
  const col = i % 2, row = Math.floor(i / 2);
  const xa = idx === 1 ? 'x' : 'x' + idx;
  const ya = idx === 1 ? 'y' : 'y' + idx;
  const lg = idx === 1 ? 'legend' : 'legend' + idx;
  const day = DAY_SERIES[i], night = NIGHT_SERIES[i];
  const n = Math.min(day.length, night.length);
  const x = monthDates(START_MONTHS[i], n);
  const d = day.slice(0, n), nt = night.slice(0, n);
  const upper = d.map((v, k) => Math.max(v, nt[k]));

  // fills (drawn first, under the lines)
  data.push({x, y: nt, xaxis: xa, yaxis: ya, type: 'scatter', mode: 'lines', line: {width: 0, color: F_DAY}, showlegend: false, hoverinfo: 'skip', legend: lg});
  data.push({x, y: upper, xaxis: xa, yaxis: ya, type: 'scatter', mode: 'lines', fill: 'tonexty', fillcolor: F_DAY, line: {width: 0, color: F_DAY}, name: SERIES_NAMES[2], legend: lg, legendrank: 3, hoverinfo: 'skip'});
  data.push({x, y: d, xaxis: xa, yaxis: ya, type: 'scatter', mode: 'lines', line: {width: 0, color: F_NIGHT}, showlegend: false, hoverinfo: 'skip', legend: lg});
  data.push({x, y: upper, xaxis: xa, yaxis: ya, type: 'scatter', mode: 'lines', fill: 'tonexty', fillcolor: F_NIGHT, line: {width: 0, color: F_NIGHT}, name: SERIES_NAMES[3], legend: lg, legendrank: 4, hoverinfo: 'skip'});
  // lines
  data.push({x, y: d, xaxis: xa, yaxis: ya, type: 'scatter', mode: 'lines', line: {width: 3, color: C_DAY}, name: SERIES_NAMES[0], legend: lg, legendrank: 1});
  data.push({x, y: nt, xaxis: xa, yaxis: ya, type: 'scatter', mode: 'lines', line: {width: 3, color: C_NIGHT}, name: SERIES_NAMES[1], legend: lg, legendrank: 2});

  const xd = COL_X[col];
  const yd = [1 - ROW_Y[row][1] / H, 1 - ROW_Y[row][0] / H];
  const axCommon = {
    showline: true, mirror: true, linecolor: '#000', linewidth: 1.7,
    ticks: 'outside', ticklen: 7, tickwidth: 1.6, tickcolor: '#000',
    showgrid: true, gridcolor: '#e8e8e8', gridwidth: 1.6, zeroline: false,
    tickfont: {family: FONT, size: 20.8, color: '#000'}
  };
  layout['xaxis' + (idx === 1 ? '' : idx)] = Object.assign({}, axCommon, {
    type: 'date', domain: xd, anchor: ya,
    range: i === 7 ? X_RANGE_CRM : X_RANGE_STD,
    tickvals: TICK_YEARS.map(y => y + '-01-01'), ticktext: TICK_YEARS
  });
  layout['yaxis' + (idx === 1 ? '' : idx)] = Object.assign({}, axCommon, {
    domain: yd, anchor: xa, range: Y_RANGES[i],
    dtick: i === 0 ? 2.5 : 2, tick0: 0, tickformat: i === 0 ? '.1f' : 'd'
  });
  layout[lg] = {
    x: xd[1] - 8 / W, y: yd[1] - 8 / H, xanchor: 'right', yanchor: 'top',
    traceorder: 'normal',
    bgcolor: 'rgba(255,255,255,0.85)', bordercolor: '#cccccc', borderwidth: 1.5,
    font: {family: FONT, size: 12.5, color: '#000'}, tracegroupgap: 0, itemwidth: 30
  };
  layout.annotations.push({
    text: '<b>' + TICKERS[i] + ' — 63-day Sharpe</b>', xref: 'paper', yref: 'paper',
    x: (xd[0] + xd[1]) / 2, y: yd[1], xanchor: 'center', yanchor: 'bottom', yshift: 10,
    showarrow: false, font: {family: FONT, size: 18.7, color: '#000'}
  });
  layout.annotations.push({
    text: 'Sharpe', xref: 'paper', yref: 'paper', x: SHARPE_X[i] / W, y: (yd[0] + yd[1]) / 2,
    xanchor: 'center', yanchor: 'middle', textangle: -90, showarrow: false,
    font: {family: FONT, size: 20.8, color: '#000'}
  });
  layout.shapes.push({
    type: 'line', xref: xa + ' domain', yref: ya, x0: 0, x1: 1, y0: 0, y1: 0,
    line: {color: 'rgba(60,60,60,0.75)', width: 1.8, dash: '7px,4px'}, layer: 'above'
  });
}

Plotly.newPlot('chart', data, layout, {displayModeBar: false, staticPlot: true});
</script>
</body>
</html>
